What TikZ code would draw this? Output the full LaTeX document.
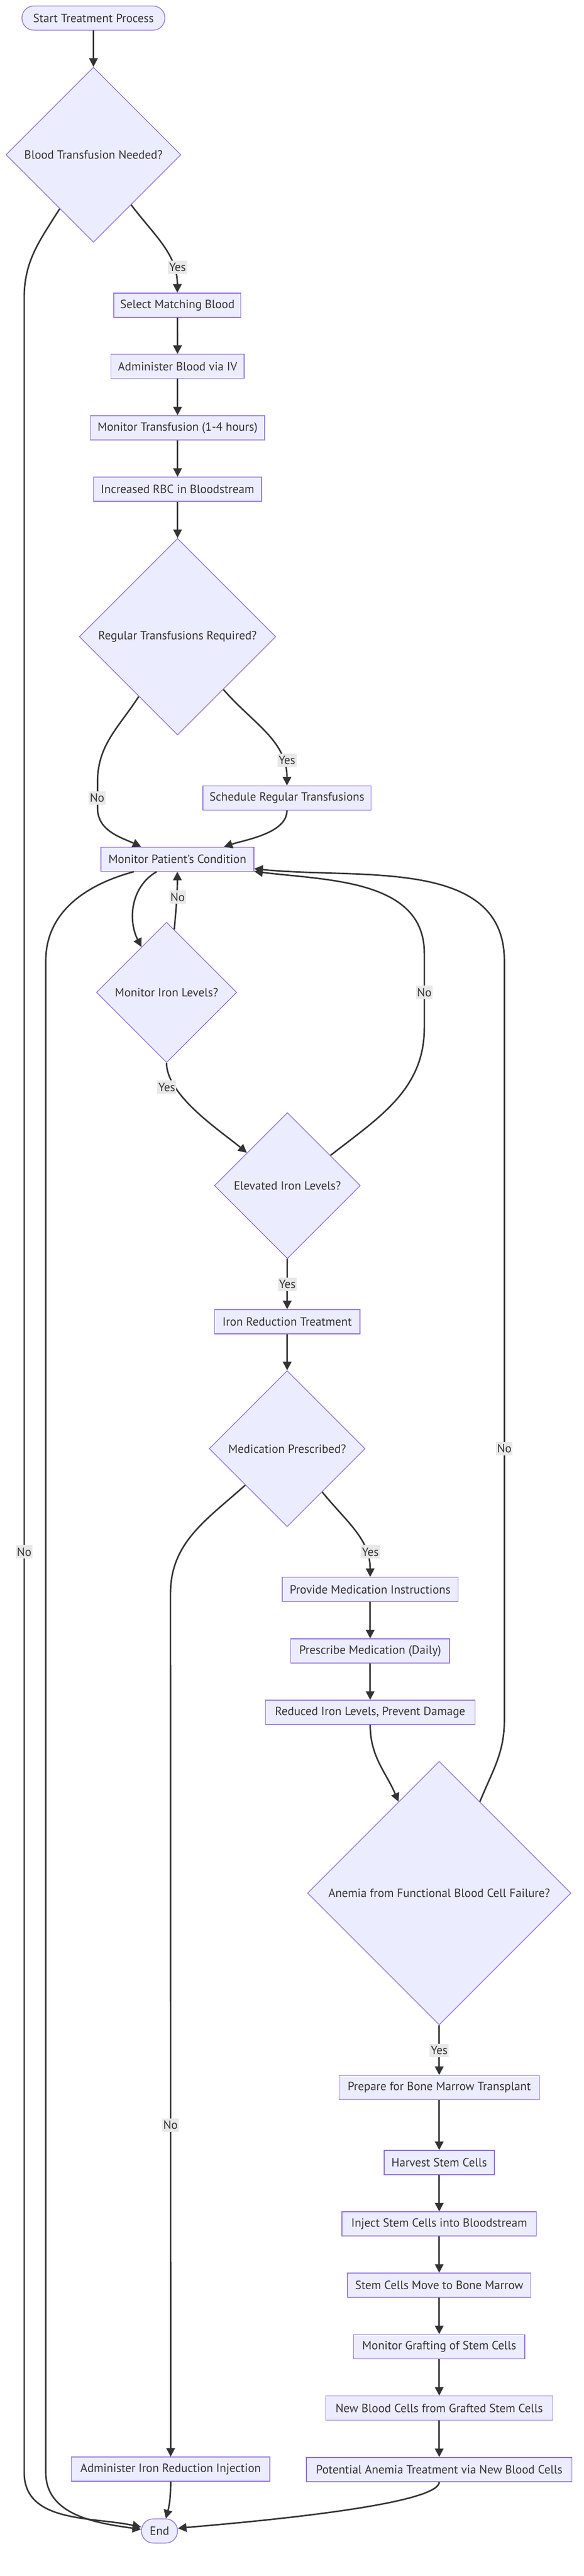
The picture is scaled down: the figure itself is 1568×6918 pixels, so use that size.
\documentclass[tikz,border=0pt]{standalone}
\usepackage{fontspec}
\setmainfont{PT Sans}
\usetikzlibrary{shapes.geometric,arrows.meta}
\definecolor{nodefill}{HTML}{ECECFF}
\definecolor{nodeline}{HTML}{9370DB}
\definecolor{edgeline}{HTML}{333333}
\definecolor{lblfill}{HTML}{E8E8E8}
\begin{document}
\begin{tikzpicture}[x=0.5pt,y=0.5pt,
  font=\fontsize{16}{19}\selectfont,
  proc/.style={rectangle, draw=nodeline, fill=nodefill, text=edgeline, line width=1pt, inner xsep=4pt, minimum height=32.5pt, minimum width=#1*0.5pt},
  term/.style={proc=#1, rounded corners=16pt},
  dec/.style={diamond, aspect=1, draw=nodeline, fill=nodefill, text=edgeline, line width=1pt, inner sep=1pt, minimum width=#1*0.5pt, minimum height=#1*0.5pt},
  flow/.style={draw=edgeline, line width=2pt, -{Triangle[length=11.5pt,width=11.5pt]}},
  lbl/.style={fill=lblfill, text=edgeline, inner xsep=1.5pt, inner ysep=0pt, minimum height=18pt}]
%set diagram size: 1568 x 6918
\fill[white] (0,0) rectangle (1568,-6918);

% Terminal Node
\node[term=384] (start) at (251,-48.5) {Start Treatment Process};
% Decision Node
\node[dec=470] (d1) at (251,-415.5) {Blood Transfusion Needed?};
% Process Nodes
\node[proc=341] (select) at (476.5,-819.5) {Select Matching Blood};
\node[proc=358] (admin) at (477,-984) {Administer Blood via IV};
\node[proc=468] (monT) at (477,-1149) {Monitor Transfusion (1-4 hours)};
\node[proc=452] (rbc) at (477,-1314) {Increased RBC in Bloodstream};
% Decision Node
\node[dec=528] (d2) at (477,-1710) {Regular Transfusions Required?};
% Process Nodes
\node[proc=452] (sched) at (771,-2143) {Schedule Regular Transfusions};
\node[proc=411] (monP) at (476.5,-2307.5) {Monitor Patient's Condition};
% Decision Nodes
\node[dec=377] (d3) at (447.5,-2665) {Monitor Iron Levels?};
\node[dec=392] (d4) at (772,-3184) {Elevated Iron Levels?};
% Process Node
\node[proc=391] (ironT) at (771.5,-3549.5) {Iron Reduction Treatment};
% Decision Node
\node[dec=419] (d5) at (771.5,-3890.5) {Medication Prescribed?};
% Process Nodes
\node[proc=473] (instr) at (994.5,-4268.5) {Provide Medication Instructions};
\node[proc=427] (presc) at (994.5,-4433.5) {Prescribe Medication (Daily)};
\node[proc=563] (reduce) at (994.5,-4598.5) {Reduced Iron Levels, Prevent Damage};
% Decision Node
\node[dec=708] (d6) at (1180,-5084) {Anemia from Functional Blood Cell Failure?};
% Process Nodes
\node[proc=538] (prep) at (1180,-5606) {Prepare for Bone Marrow Transplant};
\node[proc=296] (harvest) at (1180,-5807.5) {Harvest Stem Cells};
\node[proc=522] (inject) at (1180,-5972.5) {Inject Stem Cells into Bloodstream};
\node[proc=492] (move) at (1180,-6137) {Stem Cells Move to Bone Marrow};
\node[proc=460] (graft) at (1180,-6302) {Monitor Grafting of Stem Cells};
\node[proc=610] (newc) at (1180,-6467) {New Blood Cells from Grafted Stem Cells};
\node[proc=713] (treat) at (1180,-6632) {Potential Anemia Treatment via New Blood Cells};
\node[proc=533] (inj) at (458.5,-6631) {Administer Iron Reduction Injection};
% Terminal Node
\node[term=97] (end) at (428.5,-6797) {End};

%Bend Points
\coordinate (wA1) at (65,-800);
\coordinate (wA2) at (65,-6640);
\coordinate (wB1) at (262,-2100);
\coordinate (wB2) at (262,-2170);
\coordinate (wC1) at (123,-2580);
\coordinate (wC2) at (123,-6640);
\coordinate (wD1) at (1140,-2760);
\coordinate (wD2) at (1140,-2560);
\coordinate (wE) at (458,-4280);
\coordinate (wF1) at (1355,-4620);
\coordinate (wF2) at (1355,-2580);

%Straight Lines
\draw[flow] (start) -- (d1);
\draw[flow] (select) -- (admin);
\draw[flow] (admin) -- (monT);
\draw[flow] (monT) -- (rbc);
\draw[flow] (rbc) -- (d2);
\draw[flow] (d4) -- (ironT) node[lbl] at (772,-3449) {Yes};
\draw[flow] (ironT) -- (d5);
\draw[flow] (instr) -- (presc);
\draw[flow] (presc) -- (reduce);
\draw[flow] (d6) -- (prep) node[lbl] at (1180,-5506) {Yes};
\draw[flow] (prep) -- (harvest);
\draw[flow] (harvest) -- (inject);
\draw[flow] (inject) -- (move);
\draw[flow] (move) -- (graft);
\draw[flow] (graft) -- (newc);
\draw[flow] (newc) -- (treat);

%Curve Lines
\draw[flow] (d1.-53) to[out=-53,in=90] (select.north) node[lbl] at (477,-718) {Yes};
\draw[flow] (d1.238) to[out=238,in=90] (wA1) -- (wA2) to[out=-90,in=168] (end.168) node[lbl] at (65,-4168) {No};
\draw[flow] (d2.-49) to[out=-49,in=90] (sched.north) node[lbl] at (771,-2042) {Yes};
\draw[flow] (d2.237) to[out=237,in=90] (wB1) -- (wB2) to[out=-90,in=155] (monP.161) node[lbl] at (261,-2143) {No};
\draw[flow] (sched.south) to[out=-90,in=18,looseness=0.8] (monP.15);
\draw[flow] (monP.211) to[out=210,in=117] (d3.119);
\draw[flow] (d3.83) to[out=85,in=-90] (monP.south) node[lbl] at (477,-2409) {No};
\draw[flow] (monP.196) to[out=195,in=90] (wC1) -- (wC2) to[out=-90,in=172] (end.175);
\draw[flow] (d3.south) to[out=-90,in=140,looseness=0.7] (d4.141) node[lbl] at (448,-2920) {Yes};
\draw[flow] (d4.35) to[out=38,in=-90] (wD1) -- (wD2) to[out=90,in=-7] (monP.-9) node[lbl] at (1140,-2665) {No};
\draw[flow] (d5.-51) to[out=-51,in=90] (instr.north) node[lbl] at (995,-4168) {Yes};
\draw[flow] (d5.221) to[out=222,in=90] (wE) -- (inj.north) node[lbl] at (458,-5707) {No};
\draw[flow] (reduce.south) to[out=-90,in=113] (d6.114);
\draw[flow] (d6.66) to[out=68,in=-90] (wF1) -- (wF2) to[out=90,in=-6] (monP.-7) node[lbl] at (1355,-3890) {No};
\draw[flow] (inj.south) to[out=-90,in=75] (end.63);
\draw[flow] (treat.south) to[out=-90,in=6,looseness=0.25] (end.8);
\end{tikzpicture}
\end{document}
